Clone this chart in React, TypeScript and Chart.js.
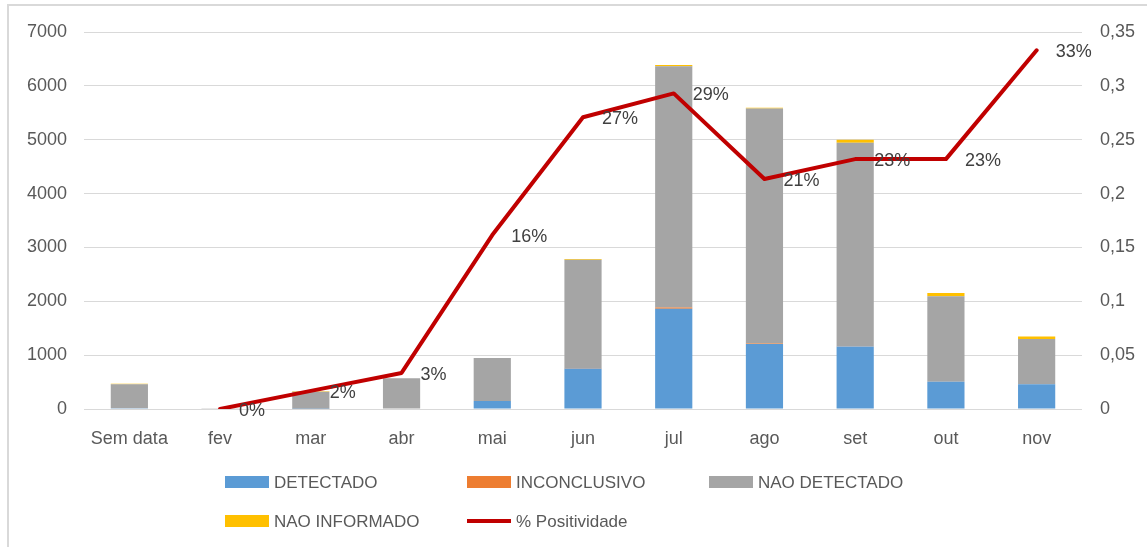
import React, { useEffect, useRef } from "react";
import { Chart, registerables } from "chart.js";

Chart.register(...registerables);

const categories = ["Sem data", "fev", "mar", "abr", "mai", "jun", "jul", "ago", "set", "out", "nov"];
const detectado = [15, 0, 3, 10, 150, 754, 1860, 1209, 1159, 505, 461];
const inconclusivo = [0, 0, 0, 0, 0, 5, 25, 5, 5, 0, 0];
const naoDetectado = [445, 15, 316, 563, 795, 2011, 4481, 4365, 3780, 1588, 841];
const naoInformado = [10, 0, 10, 0, 3, 15, 20, 15, 55, 63, 44];
const positividade: (number | null)[] = [null, 0, 0.0168, 0.0335, 0.1615, 0.2709, 0.293, 0.2135, 0.232, 0.232, 0.333];

const leftTicks = { min: 0, max: 7000, step: 1000 };
const rightTicks = { min: 0, max: 0.35, step: 0.05 };

const FONT = "'Liberation Sans', Arial, sans-serif";
const TICK_COLOR = "#595959";
const GRID_COLOR = "#D9D9D9";

const framePlugin = {
  id: "frame",
  beforeDraw(chart: any) {
    const ctx = chart.ctx;
    ctx.save();
    ctx.fillStyle = "#ffffff";
    ctx.fillRect(0, 0, chart.width, chart.height);
    ctx.fillStyle = "#D9D9D9";
    ctx.fillRect(7, 4, chart.width, 2);
    ctx.fillRect(7, 4, 2, chart.height);
    ctx.restore();
  },
};

const labelPlugin = {
  id: "lineLabels",
  afterDatasetsDraw(chart: any) {
    const ctx = chart.ctx;
    chart.data.datasets.forEach((ds: any, i: number) => {
      if (ds.type !== "line") return;
      const meta = chart.getDatasetMeta(i);
      ctx.save();
      ctx.font = `18px ${FONT}`;
      ctx.fillStyle = "#404040";
      ctx.textAlign = "left";
      ctx.textBaseline = "middle";
      meta.data.forEach((pt: any, j: number) => {
        const v = ds.data[j];
        if (v === null || v === undefined) return;
        ctx.fillText(Math.round(v * 100) + "%", pt.x + 19, pt.y + 2);
      });
      ctx.restore();
    });
  },
};

const legendPlugin = {
  id: "customLegend",
  afterDraw(chart: any) {
    const ctx = chart.ctx;
    const cols = [225, 467, 709];
    const rows = [482, 521];
    ctx.save();
    ctx.font = `17px ${FONT}`;
    ctx.textBaseline = "middle";
    ctx.textAlign = "left";
    chart.data.datasets.forEach((ds: any, i: number) => {
      const x = cols[i % 3];
      const y = rows[Math.floor(i / 3)];
      if (ds.type === "line") {
        ctx.strokeStyle = ds.borderColor;
        ctx.lineWidth = 4;
        ctx.beginPath();
        ctx.moveTo(x, y);
        ctx.lineTo(x + 44, y);
        ctx.stroke();
      } else {
        ctx.fillStyle = ds.backgroundColor;
        ctx.fillRect(x, y - 6, 44, 12);
      }
      ctx.fillStyle = TICK_COLOR;
      ctx.fillText(ds.label, x + 49, y + 1);
    });
    ctx.restore();
  },
};

function fmtComma(v: number) {
  const r = Math.round(v * 100) / 100;
  return String(r).replace(".", ",");
}

export default function App() {
  const ref = useRef<HTMLCanvasElement | null>(null);

  useEffect(() => {
    if (!ref.current) return;
    const barCommon = {
      type: "bar" as const,
      yAxisID: "y",
      categoryPercentage: 0.82,
      barPercentage: 0.5,
      order: 2,
    };
    const chart = new Chart(ref.current, {
      type: "bar",
      data: {
        labels: categories,
        datasets: [
          { ...barCommon, label: "DETECTADO", data: detectado, backgroundColor: "#5B9BD5" },
          { ...barCommon, label: "INCONCLUSIVO", data: inconclusivo, backgroundColor: "#ED7D31" },
          { ...barCommon, label: "NAO DETECTADO", data: naoDetectado, backgroundColor: "#A5A5A5" },
          { ...barCommon, label: "NAO INFORMADO", data: naoInformado, backgroundColor: "#FFC000" },
          {
            type: "line",
            label: "% Positividade",
            data: positividade,
            yAxisID: "y1",
            borderColor: "#C00000",
            backgroundColor: "#C00000",
            borderWidth: 4,
            pointRadius: 0,
            tension: 0,
            order: 1,
            borderJoinStyle: "round",
            borderCapStyle: "round",
          } as any,
        ],
      },
      options: {
        responsive: false,
        animation: false,
        devicePixelRatio: 1,
        layout: { padding: { left: 0, right: 0, top: 32, bottom: 83 } },
        plugins: {
          legend: { display: false },
          tooltip: { enabled: false },
        },
        scales: {
          x: {
            stacked: true,
            grid: { display: false },
            border: { display: false },
            ticks: { color: TICK_COLOR, font: { family: FONT, size: 18 }, padding: 11, maxRotation: 0 },
            afterFit(scale: any) {
              scale.height = 55;
            },
          },
          y: {
            stacked: true,
            position: "left",
            min: leftTicks.min,
            max: leftTicks.max,
            border: { display: false },
            grid: { color: GRID_COLOR, lineWidth: 1, drawTicks: false },
            ticks: {
              stepSize: leftTicks.step,
              color: TICK_COLOR,
              font: { family: FONT, size: 18 },
              padding: 17,
              callback: (v: any) => String(v),
            },
            afterFit(scale: any) {
              scale.width = 84;
            },
          },
          y1: {
            position: "right",
            min: rightTicks.min,
            max: rightTicks.max,
            border: { display: false },
            grid: { display: false, drawTicks: false },
            ticks: {
              stepSize: rightTicks.step,
              color: TICK_COLOR,
              font: { family: FONT, size: 18 },
              padding: 18,
              callback: (v: any) => fmtComma(Number(v)),
            },
            afterFit(scale: any) {
              scale.width = 65;
            },
          },
        },
      },
      plugins: [framePlugin, labelPlugin, legendPlugin],
    });
    return () => chart.destroy();
  }, []);

  return (
    <div style={{ position: "fixed", left: 0, top: 0, width: 1147, height: 547, background: "#fff" }}>
      <canvas ref={ref} width={1147} height={547} style={{ display: "block", width: 1147, height: 547 }} />
    </div>
  );
}
